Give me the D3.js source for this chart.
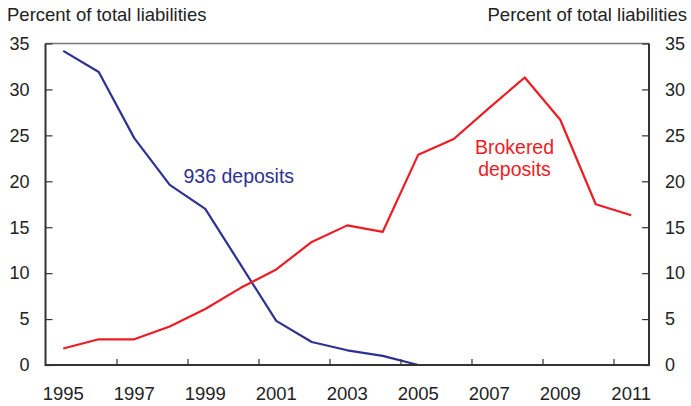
<!DOCTYPE html>
<html>
<head>
<meta charset="utf-8">
<script src="https://cdn.jsdelivr.net/npm/d3@7/dist/d3.min.js"></script>
<style>
  html, body { margin: 0; padding: 0; background: #fff; }
  svg { display: block; font-family: "Liberation Sans", Arial, sans-serif; }
</style>
</head>
<body>
<svg id="chart" width="691" height="406"></svg>
<script>
const years = [1995,1996,1997,1998,1999,2000,2001,2002,2003,2004,2005,2006,2007,2008,2009,2010,2011];
const deposits936 = [34.2,31.9,24.7,19.6,17.0,10.9,4.8,2.5,1.6,1.0,0.0];
const brokered = [1.8,2.8,2.8,4.2,6.1,8.4,10.4,13.4,15.2,14.5,22.9,24.6,28.0,31.3,26.7,17.5,16.3];
const yTicks = [0,5,10,15,20,25,30,35];
const xTickLabels = [1995,1997,1999,2001,2003,2005,2007,2009,2011];
const xTickMarks = [1996.5,1998.5,2000.5,2002.5,2004.5,2006.5,2008.5,2010.5];

const svg = d3.select("#chart");
const L = 45.5, R = 649, T = 43.5, B = 365;
const x = d3.scaleLinear().domain([1994.5, 2011.5]).range([L, R]);
const y = d3.scaleLinear().domain([0, 35]).range([B, T]);

const blue = "#2e3192", red = "#ed1c24", axisCol = "#333333";

// top border
svg.append("line").attr("x1", L).attr("x2", R).attr("y1", T).attr("y2", T)
  .attr("stroke", "#777").attr("stroke-width", 1.5);

// lines
const line = d3.line().x(d => x(d[0])).y(d => y(d[1]));
svg.append("path").datum(years.slice(0, deposits936.length).map((yr,i)=>[yr, deposits936[i]]))
  .attr("d", line).attr("fill","none").attr("stroke", blue).attr("stroke-width", 2.2).attr("stroke-linejoin","round");
svg.append("path").datum(years.map((yr,i)=>[yr, brokered[i]]))
  .attr("d", line).attr("fill","none").attr("stroke", red).attr("stroke-width", 2.2).attr("stroke-linejoin","round");

// axes
const gl = svg.append("g").attr("transform", `translate(${L},0)`)
  .call(d3.axisRight(y).tickValues(yTicks).tickSize(7).tickFormat(""));
const gr = svg.append("g").attr("transform", `translate(${R},0)`)
  .call(d3.axisLeft(y).tickValues(yTicks).tickSize(7).tickFormat(""));
const gb = svg.append("g").attr("transform", `translate(0,${B})`)
  .call(d3.axisTop(x).tickValues(xTickMarks).tickSize(6).tickFormat(""));
[gl, gr, gb].forEach(g => {
  g.select(".domain").attr("stroke", axisCol).attr("stroke-width", 2);
  g.selectAll(".tick line").attr("stroke", axisCol).attr("stroke-width", 1.2);
});
gb.select(".domain").attr("d", `M${L},0H${R}`);
gl.select(".domain").attr("d", `M0,${T}V${B+1}`);
gr.select(".domain").attr("d", `M0,${T}V${B+1}`);

// tick labels
svg.append("g").selectAll("text").data(yTicks).join("text")
  .attr("x", 29.5).attr("y", d => y(d)).attr("dy", "0.35em").attr("text-anchor","end")
  .attr("font-size", 18).attr("fill", "#222").text(d => d);
svg.append("g").selectAll("text").data(yTicks).join("text")
  .attr("x", 665).attr("y", d => y(d)).attr("dy", "0.35em").attr("text-anchor","start")
  .attr("font-size", 18).attr("fill", "#222").text(d => d);
svg.append("g").selectAll("text").data(xTickLabels).join("text")
  .attr("x", d => x(d)).attr("y", 400).attr("text-anchor","middle")
  .attr("font-size", 18.5).attr("fill", "#222").text(d => d);

// titles
svg.append("text").attr("x", 7).attr("y", 21).attr("font-size", 18.5).attr("fill", "#222")
  .text("Percent of total liabilities");
svg.append("text").attr("x", 687).attr("y", 21).attr("text-anchor","end").attr("font-size", 18.5).attr("fill", "#222")
  .text("Percent of total liabilities");

// series labels
svg.append("text").attr("x", 183.5).attr("y", 182.5).attr("font-size", 19.5).attr("fill", blue)
  .text("936 deposits");
const bl = svg.append("text").attr("x", 514.5).attr("y", 153.5).attr("text-anchor","middle")
  .attr("font-size", 19.5).attr("fill", red);
bl.append("tspan").attr("x", 514.5).text("Brokered");
bl.append("tspan").attr("x", 514.5).attr("dy", 22).text("deposits");
</script>
</body>
</html>
